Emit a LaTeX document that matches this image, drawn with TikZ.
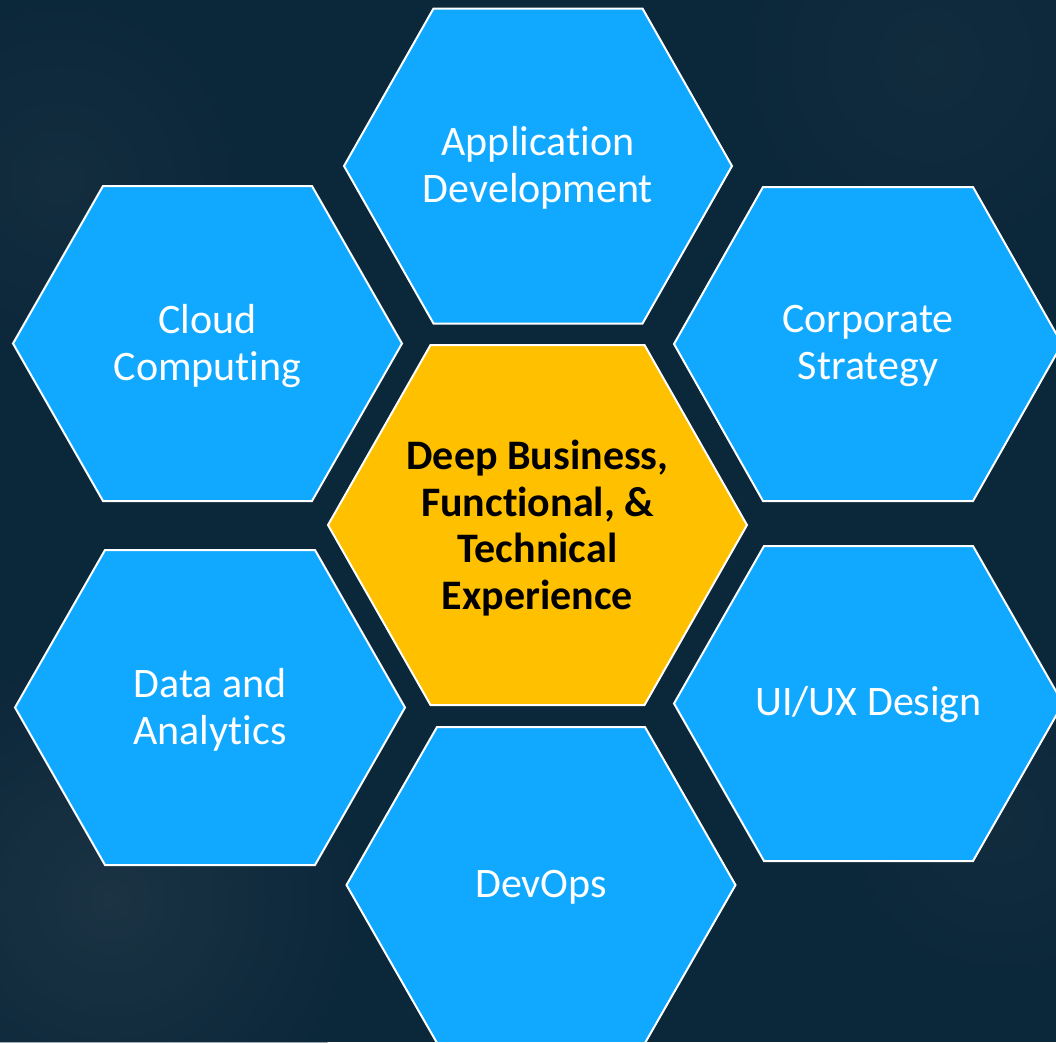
\documentclass[tikz,border=0pt]{standalone}
\usepackage{fontspec}
\setmainfont{Carlito}[Ligatures=NoCommon]
\newcommand{\tnolig}{t\kern0pt\relax}
\definecolor{bgnavy}{RGB}{11,39,58}
\definecolor{hexblue}{RGB}{16,169,255}
\definecolor{hexgold}{RGB}{255,192,0}
\tikzset{
  hexblue/.style={fill=hexblue, draw=white, line width=2pt, line join=miter},
  hexgold/.style={fill=hexgold, draw=white, line width=2pt, line join=miter},
  bluetext/.style={text=white, align=center, font=\fontsize{42}{47}\selectfont, inner sep=0pt},
  goldtext/.style={text=black, align=center, font=\bfseries\fontsize{42}{46.5}\selectfont, inner sep=0pt}
}
% #1 cx, #2 cy, #3 half width, #4 half top edge, #5 half height, #6 style
\newcommand{\hexat}[6]{%
  \path[#6] (#1-#3,#2) -- (#1-#4,#2-#5) -- (#1+#4,#2-#5) -- (#1+#3,#2)
    -- (#1+#4,#2+#5) -- (#1-#4,#2+#5) -- cycle;}
\begin{document}
\begin{tikzpicture}[x=1pt,y=-1pt]
\useasboundingbox (0,0) rectangle (1056,1042);
\clip (0,0) rectangle (1056,1042);
\fill[bgnavy] (0,0) rectangle (1056,1042);
\shade[inner color=bgnavy!65!gray, outer color=bgnavy, opacity=0.4] (110,900) circle (260);
\shade[inner color=bgnavy!75!gray, outer color=bgnavy, opacity=0.3] (60,180) circle (200);
\shade[inner color=bgnavy!80!gray, outer color=bgnavy, opacity=0.3] (930,60) circle (220);
\shade[inner color=bgnavy!80!gray, outer color=bgnavy, opacity=0.3] (1000,820) circle (180);

% hexagons
\hexat{538}{166}{194}{104.5}{157.5}{hexblue}
\hexat{207.5}{343.5}{194.5}{104.5}{157.5}{hexblue}
\hexat{868}{344}{194}{105}{157}{hexblue}
\hexat{210}{707.5}{195}{105}{157.5}{hexblue}
\hexat{868.5}{703.5}{194.5}{104.5}{157.5}{hexblue}
\hexat{541}{885}{194.5}{104}{158}{hexblue}
\hexat{537.5}{525}{209.5}{107}{180}{hexgold}

% texts
\node[bluetext] (appdev) at (538,168) {Application\\Development};
\node[bluetext] (cloud) at (207.5,346) {Cloud\\Compu\tnolig ing};
\node[bluetext] (corp) at (868,346) {Corporate\\Strategy};
\node[bluetext] (data) at (210,710) {Data and\\Analy\tnolig ics};
\node[bluetext] (uiux) at (868.5,705) {UI/UX Design};
\node[bluetext] (devops) at (541,887) {DevOps};
\node[goldtext] (core) at (537.5,528) {Deep Business,\\Func\tnolig ional, \&\\Technical\\Experience};
\end{tikzpicture}
\end{document}
